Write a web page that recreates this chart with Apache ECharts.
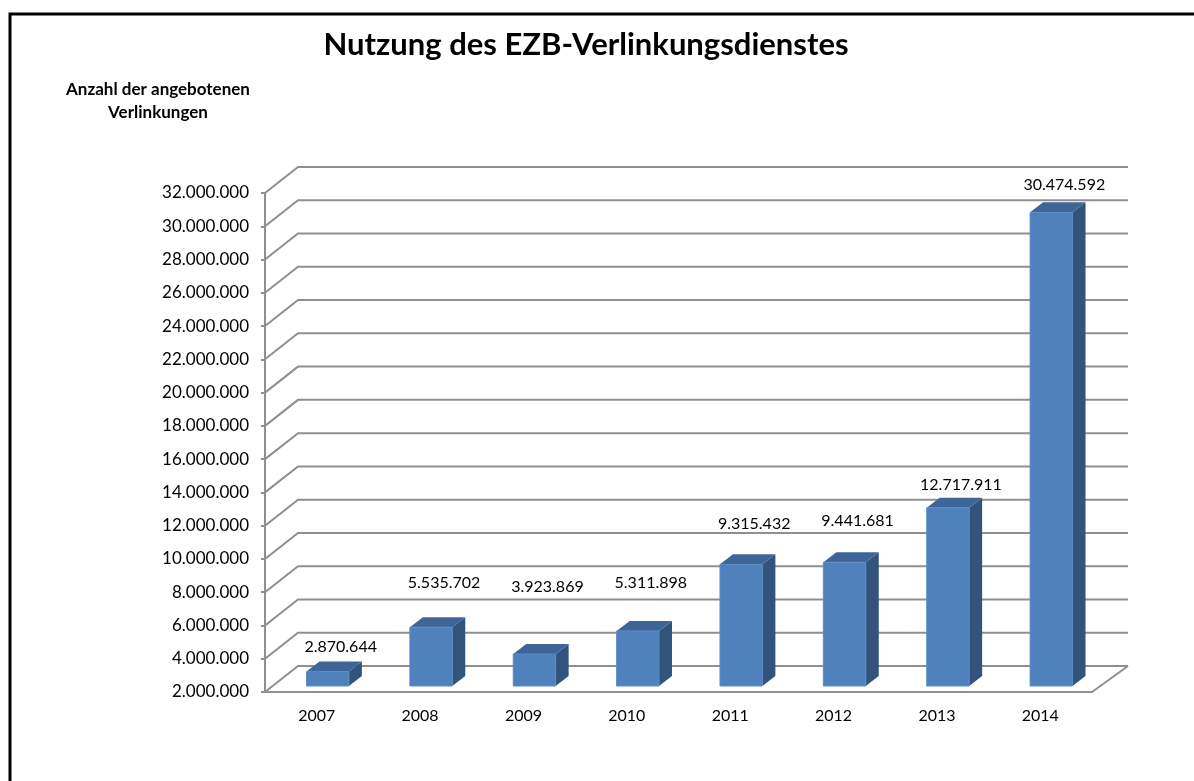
<!DOCTYPE html>
<html>
<head>
<meta charset="utf-8">
<title>Nutzung des EZB-Verlinkungsdienstes</title>
<script src="https://cdn.jsdelivr.net/npm/echarts@6/dist/echarts.min.js"></script>
<style>
  html, body { margin: 0; padding: 0; background: #fff; }
  #chart { width: 1194px; height: 781px; }
</style>
</head>
<body>
<div id="chart"></div>
<script>
// ─── Daten ──────────────────────────────────────────────
const years = ['2007', '2008', '2009', '2010', '2011', '2012', '2013', '2014']
const links = [2870644, 5535702, 3923869, 5311898, 9315432, 9441681, 12717911, 30474592]
const yTicks = [2000000, 4000000, 6000000, 8000000, 10000000, 12000000, 14000000, 16000000,
                18000000, 20000000, 22000000, 24000000, 26000000, 28000000, 30000000, 32000000]

// ─── Darstellung (Pseudo-3D wie im Excel-Original) ─────
const FONT     = 'Lato, "Open Sans", sans-serif'
const GRID_COL = '#8f8f8f'
const WALL     = { dxL: 33, dxR: 36, dy: 26 }   // Versatz der Rückwand
const BAR      = { ratio: 0.41, shiftX: 11, shiftY: 6, dx: 13, dy: 10 }
// Beschriftungen sind im Original von Hand verschoben (Abstand über der Säule)
const labelRise = [15, 34, 57, 38, 30, 31, 13, 18]

const fmt = n => String(n).replace(/\B(?=(\d{3})+(?!\d))/g, '.')

const chart = echarts.init(document.getElementById('chart'))

// Rückwand-Gitterlinien inkl. Diagonalen zur vorderen Achse
const renderWall = (params, api) => {
  const cs = params.coordSys
  const y  = api.coord([0, api.value(1)])[1]
  const x0 = cs.x
  const x1 = cs.x + cs.width
  const children = [{
    type: 'polyline',
    shape: { points: [[x0, y], [x0 + WALL.dxL, y - WALL.dy], [x1 + WALL.dxR, y - WALL.dy]] },
    style: { stroke: GRID_COL, lineWidth: 2, fill: null },
  }]
  // Bodenkante rechts
  if (params.dataIndex === 0) {
    children.push({
      type: 'line',
      shape: { x1: x1, y1: y, x2: x1 + WALL.dxR, y2: y - WALL.dy },
      style: { stroke: GRID_COL, lineWidth: 2 },
    })
  }
  return { type: 'group', children }
}

// Säulen mit Vorder-, Ober- und Seitenfläche
const renderBar = (params, api) => {
  const i    = params.dataIndex
  const top  = api.coord([api.value(0), api.value(1)])
  const bot  = api.coord([api.value(0), yTicks[0]])
  const w    = api.size([1, 0])[0] * BAR.ratio
  const cx   = top[0] + BAR.shiftX
  const xL   = cx - w / 2
  const xR   = cx + w / 2
  const yT   = top[1] - BAR.shiftY
  const yB   = bot[1] - BAR.shiftY
  const dx   = BAR.dx
  const dy   = BAR.dy
  return {
    type: 'group',
    children: [
      {
        type: 'polygon',
        shape: { points: [[xR, yT], [xR + dx, yT - dy], [xR + dx, yB - dy], [xR, yB]] },
        style: { fill: '#31537c' },
      },
      {
        type: 'polygon',
        shape: { points: [[xL, yT], [xL + dx, yT - dy], [xR + dx, yT - dy], [xR, yT]] },
        style: { fill: '#3d6597' },
      },
      {
        type: 'rect',
        shape: { x: xL, y: yT, width: w, height: yB - yT },
        style: { fill: '#4f81bd', stroke: '#5b8cc6', lineWidth: 1 },
      },
      {
        type: 'text',
        x: cx + dx,
        y: yT - dy - labelRise[i],
        style: {
          text: fmt(api.value(1)),
          align: 'center',
          verticalAlign: 'middle',
          fill: '#000',
          font: '16px ' + FONT,
        },
      },
    ],
  }
}

chart.setOption({
  animation: false,
  backgroundColor: '#fff',
  title: [
    {
      text: 'Nutzung des EZB-Verlinkungsdienstes',
      left: 581,
      top: 24,
      textAlign: 'center',
      textStyle: { fontFamily: FONT, fontSize: 31, fontWeight: 'bold', color: '#000' },
    },
    {
      text: 'Anzahl der angebotenen\nVerlinkungen',
      left: 153,
      top: 73,
      textAlign: 'center',
      textStyle: { fontFamily: FONT, fontSize: 17, fontWeight: 'bold', color: '#000', lineHeight: 23 },
    },
  ],
  graphic: [{
    type: 'polyline',
    shape: { points: [[10, 781], [10, 14], [1194, 14]] },
    style: { stroke: '#000', lineWidth: 3, fill: null },
  }],
  grid: { left: 265, right: 102, top: 193, bottom: 89 },
  xAxis: {
    type: 'category',
    data: years,
    axisLine:  { lineStyle: { color: GRID_COL, width: 2 } },
    axisTick:  { length: 5, lineStyle: { color: GRID_COL, width: 2 } },
    axisLabel: { color: '#000', fontSize: 16, fontFamily: FONT, margin: 16 },
    splitLine: { show: false },
  },
  yAxis: {
    type: 'value',
    min: yTicks[0],
    max: yTicks[yTicks.length - 1],
    interval: yTicks[1] - yTicks[0],
    axisLine:  { show: true, lineStyle: { color: GRID_COL, width: 2 } },
    axisTick:  { show: true, length: 4, lineStyle: { color: GRID_COL, width: 2 } },
    axisLabel: { color: '#000', fontSize: 17, fontFamily: FONT, margin: 16, formatter: v => fmt(v) },
    splitLine: { show: false },
  },
  series: [
    {
      type: 'custom',
      name: 'wall',
      renderItem: renderWall,
      data: yTicks.map(v => [0, v]),
      clip: false,
      silent: true,
      z: 1,
    },
    {
      type: 'custom',
      name: 'Verlinkungen',
      renderItem: renderBar,
      data: links.map((v, i) => [i, v]),
      clip: false,
      z: 3,
    },
  ],
})
</script>
</body>
</html>
